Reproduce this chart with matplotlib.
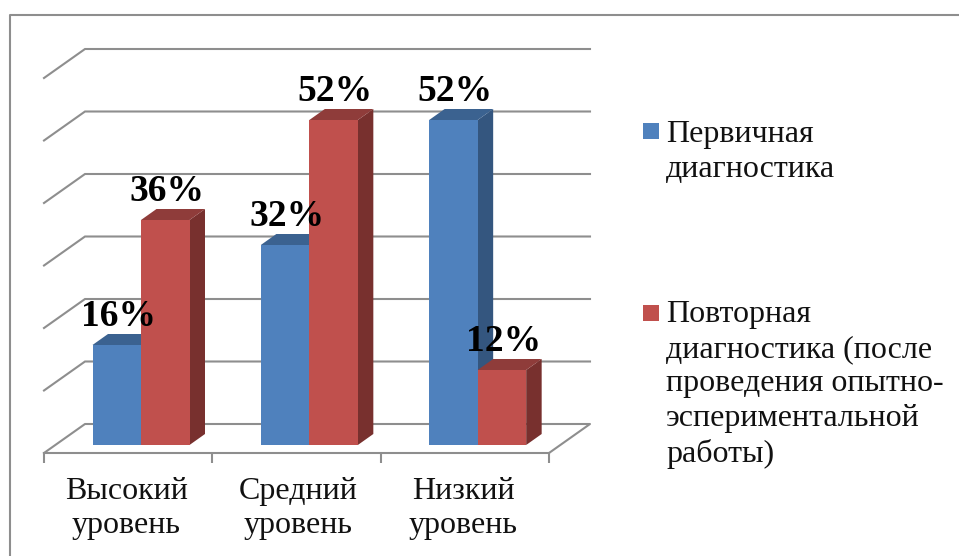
import matplotlib
matplotlib.use("Agg")
import matplotlib.pyplot as plt
from matplotlib.patches import Polygon, Rectangle

categories = ["Высокий\nуровень", "Средний\nуровень", "Низкий\nуровень"]
series_names = ["Первичная\nдиагностика",
                "Повторная\nдиагностика (после\nпроведения опытно-\nэспериментальной\nработы)"]
first = [16, 32, 52]
second = [36, 52, 12]
gridvals = [0, 10, 20, 30, 40, 50, 60]

W, H = 959, 556
plt.rcParams['font.family'] = ['Liberation Serif', 'DejaVu Serif']
fig = plt.figure(figsize=(W / 100, H / 100), dpi=100)
GRAY = '#8e8e8e'
LW = 1.5
TXT = '#111111'
SPACING = 1.26

# outer frame
fig.add_artist(plt.Line2D([10 / W, 10 / W, 1], [0, 1 - 15 / H, 1 - 15 / H], color=GRAY, lw=LW))

ax = fig.add_axes([44 / W, 1 - 453 / H, 505 / W, (453 - 70) / H])
px_x = 505 / 3
px_y = 6.25
ax.set_xlim(0, 3)
ax.set_ylim(-8 / px_y, 60)
ax.patch.set_alpha(0)
for s in ('left', 'right', 'top'):
    ax.spines[s].set_visible(False)
ax.spines['bottom'].set_color(GRAY)
ax.spines['bottom'].set_linewidth(LW)
ax.set_yticks([])
ax.set_xticks([0, 1, 2, 3])
ax.set_xticklabels([])
ax.tick_params(axis='x', which='major', length=7.2, width=LW, color=GRAY)
ax.set_xticks([0.49, 1.51, 2.49], minor=True)
ax.set_xticklabels(categories, minor=True, fontsize=23, color=TXT, linespacing=SPACING)
ax.tick_params(axis='x', which='minor', length=0, pad=17)

# back wall + side wall grid
bdx = 41 / px_x
bdy = 21 / px_y
fdy = -8 / px_y
for v in gridvals:
    if v > 0:
        ax.plot([0, bdx, 3 + bdx], [v + fdy, v + bdy, v + bdy], color=GRAY, lw=LW,
                clip_on=False, zorder=1, solid_joinstyle='miter')
    else:
        ax.plot([0, bdx, 3 + bdx, 3], [fdy, bdy, bdy, fdy], color=GRAY, lw=LW,
                clip_on=False, zorder=1)

# bars with 3D depth
w = 48.5 / px_x
off = 48.5 / px_x
ddx = 15.5 / px_x
ddy = 11 / px_y
BLUE = ('#4f81bd', '#3b6290', '#34567f')
RED = ('#c0504d', '#8f3c3a', '#78302e')


def bar3d(x, v, cols, z):
    ax.bar(x, v, width=w, align='edge', color=cols[0], zorder=z + 0.2, clip_on=False)
    ax.add_patch(Polygon([(x + w, 0), (x + w + ddx, ddy), (x + w + ddx, v + ddy), (x + w, v)],
                         closed=True, fc=cols[2], ec='none', zorder=z, clip_on=False))
    ax.add_patch(Polygon([(x, v), (x + ddx, v + ddy), (x + w + ddx, v + ddy), (x + w, v)],
                         closed=True, fc=cols[1], ec='none', zorder=z + 0.1, clip_on=False))
    ax.annotate(f"{v}%", (x + w / 2, v), xytext=(1.5, 29), textcoords='offset pixels',
                ha='center', va='center', fontsize=27, fontweight='bold', color='black',
                zorder=20, annotation_clip=False)


for i in range(3):
    bar3d(i + off, first[i], BLUE, 3 + i * 2)
    bar3d(i + off + w, second[i], RED, 4 + i * 2)

# legend
for (y0, col) in ((131, BLUE[0]), (313, RED[0])):
    fig.add_artist(Rectangle((643 / W, 1 - (y0 + 8) / H), 16 / W, 16 / H, fc=col, ec='none',
                             transform=fig.transFigure))
fig.text(666 / W, 1 - 120 / H, series_names[0], fontsize=23, va='top', ha='left',
         color=TXT, linespacing=SPACING)
fig.text(666 / W, 1 - 300 / H, series_names[1], fontsize=23, va='top', ha='left',
         color=TXT, linespacing=SPACING)

fig.savefig('out.png', dpi=100, facecolor='white')
